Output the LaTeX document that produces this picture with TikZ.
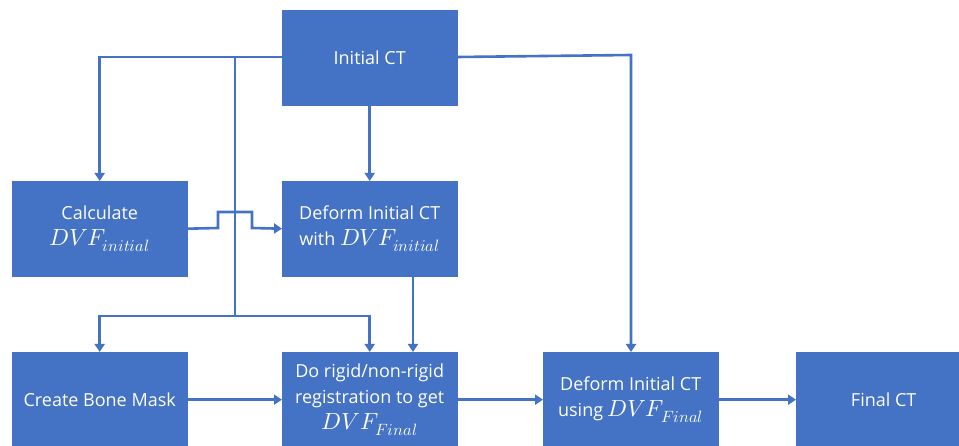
\documentclass[tikz,border=0pt]{standalone}
\usepackage{fontspec}
\usepackage{unicode-math}
\setmainfont{Open Sans}
\setmathfont{Latin Modern Math}[Scale=1.3]
\usetikzlibrary{arrows.meta}
\definecolor{obl}{HTML}{4472C4}
\tikzset{
  box/.style={draw=obl, fill=obl, minimum width=175pt, minimum height=95pt, inner sep=0pt,
    text=white, align=center, font=\fontsize{18}{26}\selectfont, anchor=north west},
  conn/.style={draw=obl, line width=2.6pt},
  arr/.style={conn, -{Triangle[length=8pt,width=10pt]}}
}
\begin{document}
\begin{tikzpicture}[x=1pt,y=-1pt]
\useasboundingbox (0,0) rectangle (959,446);
\begin{scope}
\clip (0,0) rectangle (959,446);
\node[box] (ict) at (282,10) {Initial CT};
\node[box] (calc) at (12,181) {Calculate\\$DVF_{initial}$};
\node[box] (def1) at (282,181) {Deform Initial CT\\with $DVF_{initial}$};
\node[box] (bone) at (12,352) {Create Bone Mask};
\node[box] (reg) at (282,352) {Do rigid/non-rigid\\registration to get\\$DVF_{Final}$};
\node[box] (def2) at (543,352) {Deform Initial CT\\using $DVF_{Final}$};
\node[box] (fct) at (796,352) {Final CT};
\end{scope}
\coordinate (j1) at (235,57);
\coordinate (j2) at (235,316);
% Initial CT -> Calculate
\draw[arr] (ict.west |- 0,57) -| (calc.north);
% vertical trunk
\draw[conn] (j1) -- (j2);
\draw[arr] (j2) -| (bone.north);
\draw[arr] (j2) -| (reg.north);
% Initial CT -> Deform1
\draw[arr] (ict.south) -- (def1.north);
% Calculate -> Deform1 with hop
\draw[arr] (calc.east) -- (218,228) -- (218,212) -- (252,212) -- (252,228) -- (def1.west);
% Deform1 -> reg
\draw[arr] (def1.south -| 413,0) -- (reg.north -| 413,0);
% Initial CT -> Deform2
\coordinate (k) at (631,55);
\draw[arr] (457,57) -- (k) -- (def2.north -| k);
% bottom row
\draw[arr] (bone.east) -- (reg.west);
\draw[arr] (reg.east) -- (def2.west);
\draw[arr] (def2.east) -- (fct.west);
\end{tikzpicture}
\end{document}
